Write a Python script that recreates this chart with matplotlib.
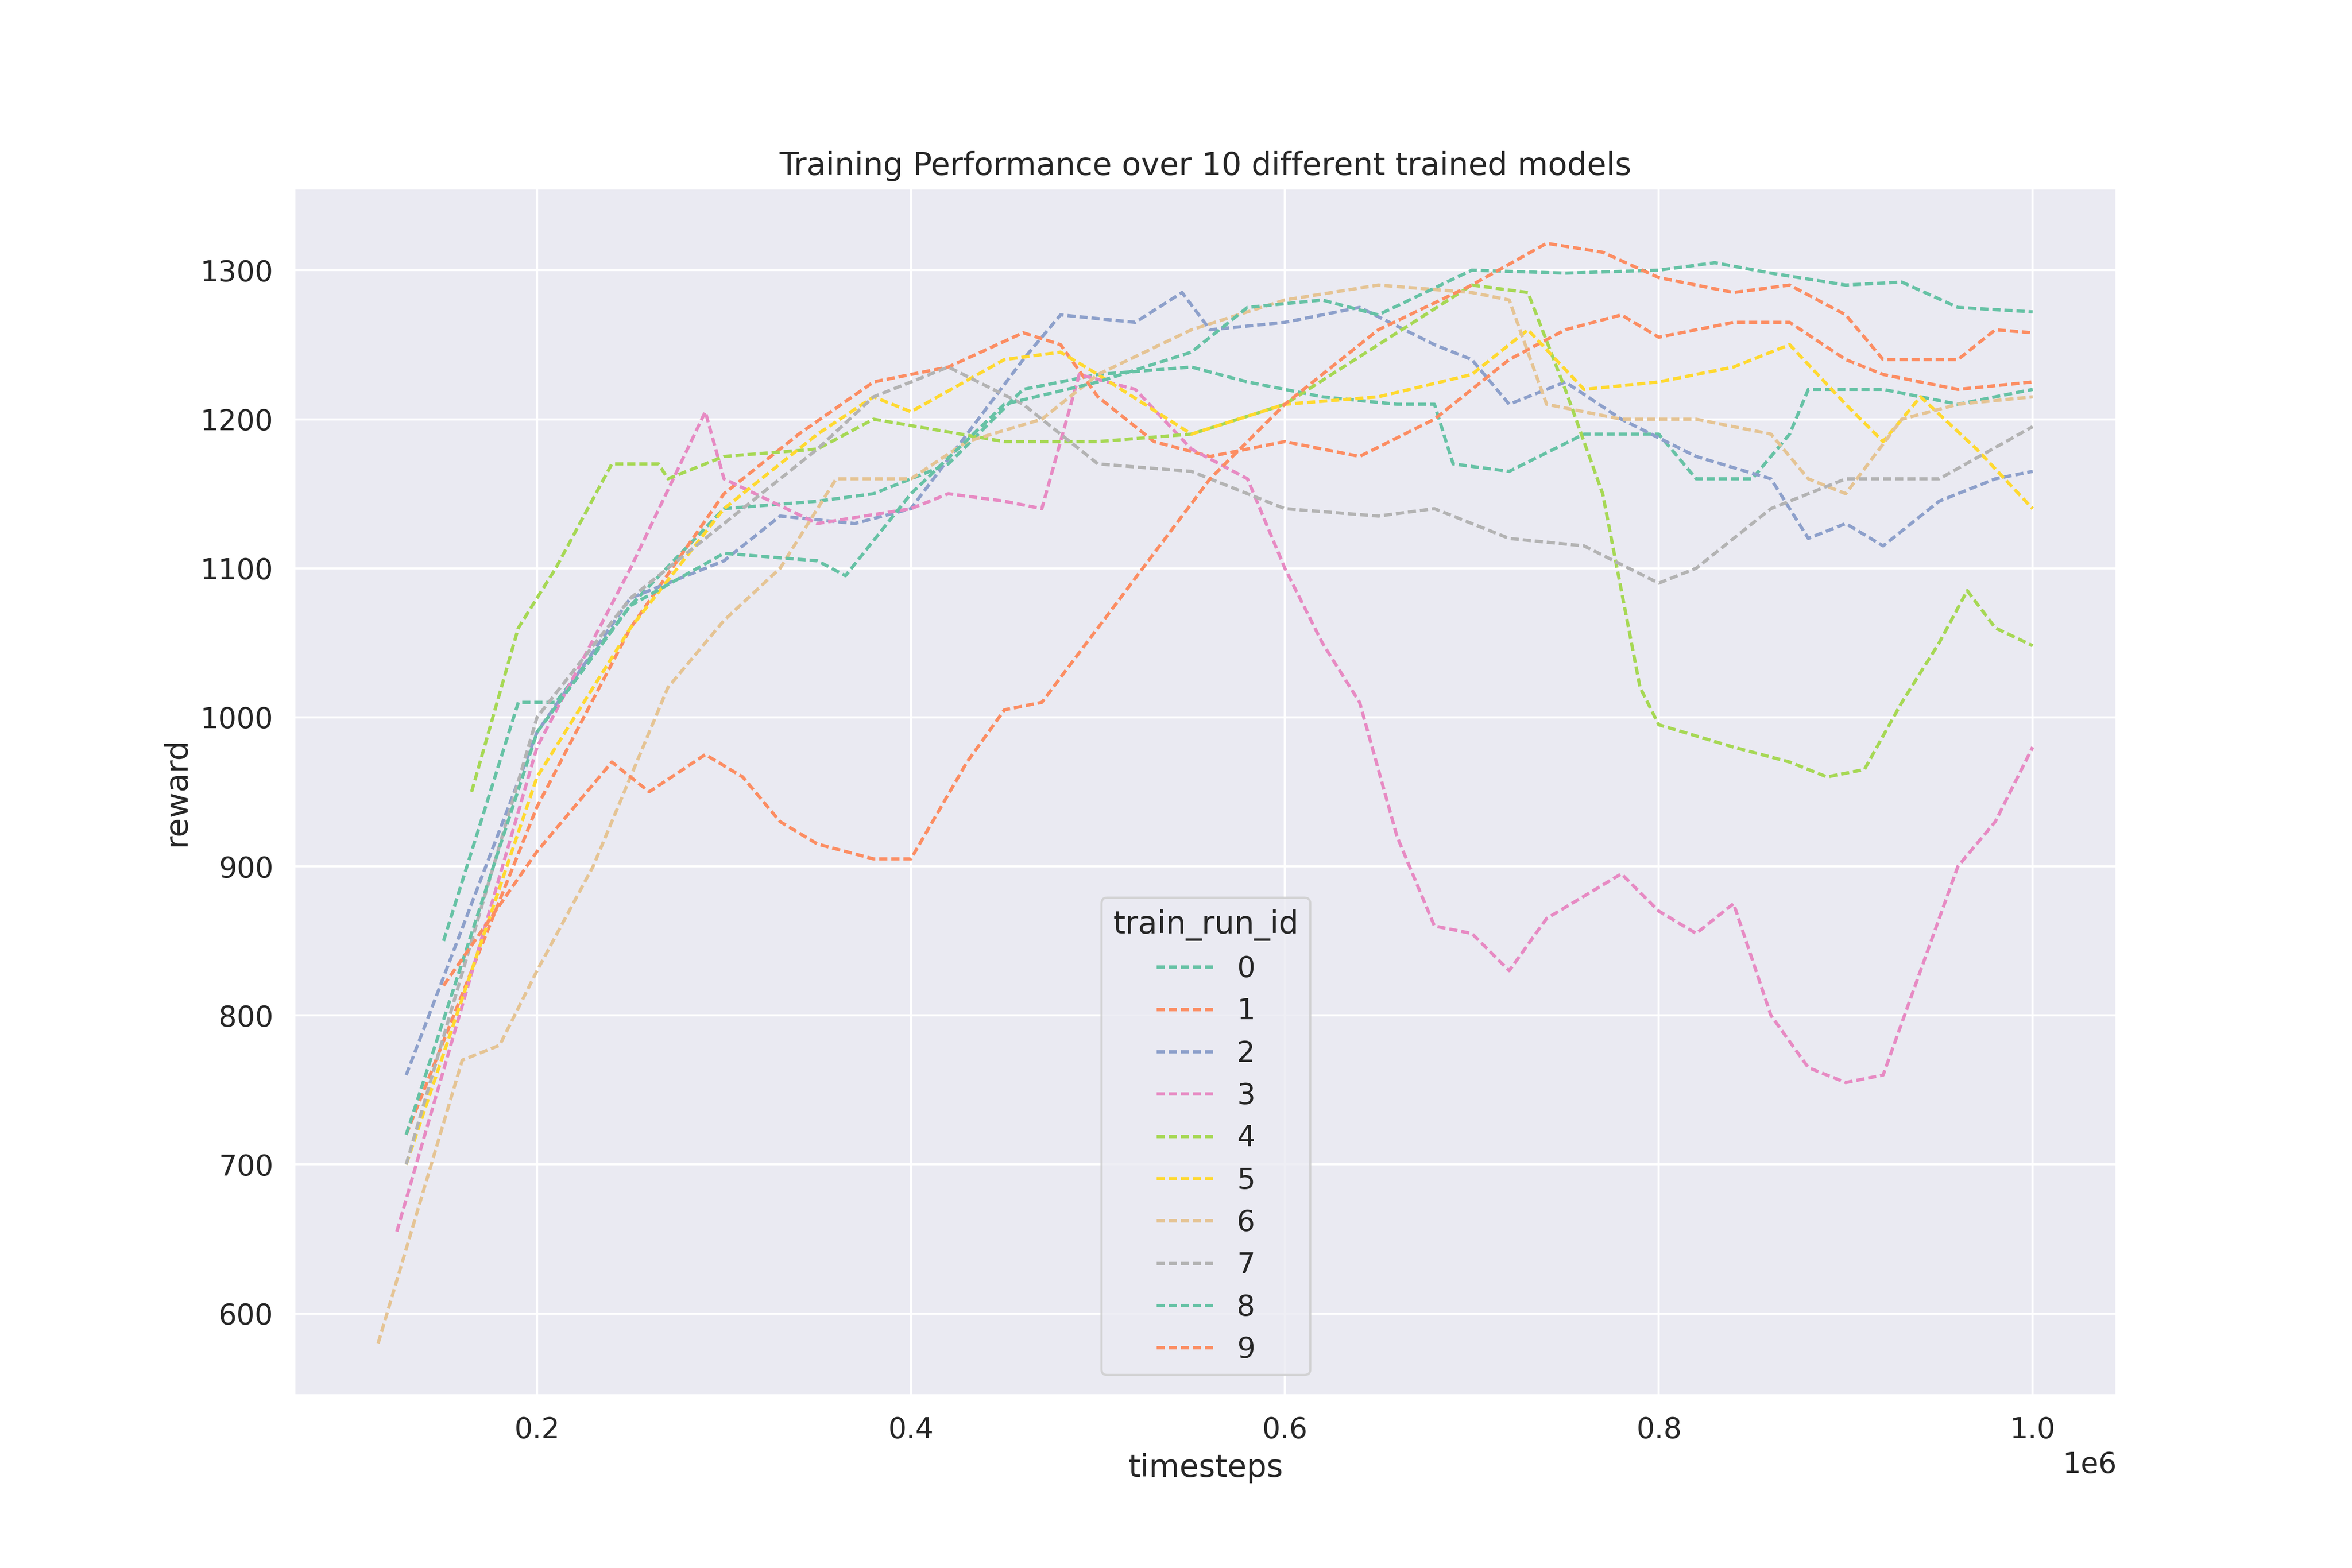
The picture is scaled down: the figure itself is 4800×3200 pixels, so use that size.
import numpy as np
import matplotlib
matplotlib.use("Agg")
import matplotlib.pyplot as plt
import seaborn as sns

run_ids = list(range(10))

x0 = [0.15, 0.19, 0.21, 0.25, 0.3, 0.35, 0.38, 0.42, 0.46, 0.5, 0.55, 0.58, 0.62, 0.66, 0.68, 0.69, 0.72, 0.76, 0.8, 0.82, 0.85, 0.87, 0.88, 0.92, 0.96, 1.0]
y0 = [850, 1010, 1010, 1075, 1140, 1145, 1150, 1170, 1220, 1230, 1235, 1225, 1215, 1210, 1210, 1170, 1165, 1190, 1190, 1160, 1160, 1190, 1220, 1220, 1210, 1220]
x1 = [0.13, 0.2, 0.25, 0.3, 0.34, 0.38, 0.42, 0.46, 0.48, 0.5, 0.53, 0.56, 0.6, 0.64, 0.68, 0.72, 0.75, 0.78, 0.8, 0.84, 0.87, 0.9, 0.92, 0.96, 1.0]
y1 = [720, 940, 1060, 1150, 1190, 1225, 1235, 1258, 1250, 1215, 1185, 1175, 1185, 1175, 1200, 1240, 1260, 1270, 1255, 1265, 1265, 1240, 1230, 1220, 1225]
x2 = [0.13, 0.2, 0.25, 0.3, 0.33, 0.37, 0.4, 0.43, 0.46, 0.48, 0.52, 0.545, 0.56, 0.6, 0.64, 0.68, 0.7, 0.72, 0.75, 0.78, 0.82, 0.86, 0.88, 0.9, 0.92, 0.95, 0.98, 1.0]
y2 = [760, 990, 1080, 1105, 1135, 1130, 1140, 1190, 1240, 1270, 1265, 1285, 1260, 1265, 1275, 1250, 1240, 1210, 1225, 1200, 1175, 1160, 1120, 1130, 1115, 1145, 1160, 1165]
x3 = [0.125, 0.2, 0.25, 0.29, 0.3, 0.35, 0.4, 0.42, 0.45, 0.47, 0.49, 0.52, 0.55, 0.58, 0.6, 0.62, 0.64, 0.66, 0.68, 0.7, 0.72, 0.74, 0.76, 0.78, 0.8, 0.82, 0.84, 0.86, 0.88, 0.9, 0.92, 0.94, 0.96, 0.98, 1.0]
y3 = [655, 980, 1100, 1205, 1160, 1130, 1140, 1150, 1145, 1140, 1230, 1220, 1180, 1160, 1100, 1050, 1010, 920, 860, 855, 830, 865, 880, 895, 870, 855, 875, 800, 765, 755, 760, 830, 900, 930, 980]
x4 = [0.165, 0.19, 0.21, 0.24, 0.265, 0.27, 0.3, 0.35, 0.38, 0.45, 0.5, 0.55, 0.6, 0.65, 0.7, 0.73, 0.75, 0.77, 0.79, 0.8, 0.84, 0.87, 0.89, 0.91, 0.93, 0.95, 0.965, 0.98, 1.0]
y4 = [950, 1060, 1100, 1170, 1170, 1160, 1175, 1180, 1200, 1185, 1185, 1190, 1210, 1250, 1290, 1285, 1220, 1150, 1020, 995, 980, 970, 960, 965, 1010, 1050, 1085, 1060, 1048]
x5 = [0.13, 0.2, 0.25, 0.3, 0.35, 0.38, 0.4, 0.45, 0.48, 0.5, 0.55, 0.6, 0.65, 0.7, 0.73, 0.76, 0.8, 0.84, 0.87, 0.9, 0.92, 0.94, 0.97, 1.0]
y5 = [700, 960, 1060, 1140, 1190, 1215, 1205, 1240, 1245, 1230, 1190, 1210, 1215, 1230, 1260, 1220, 1225, 1235, 1250, 1210, 1185, 1215, 1180, 1140]
x6 = [0.115, 0.16, 0.18, 0.2, 0.23, 0.27, 0.3, 0.33, 0.36, 0.4, 0.43, 0.47, 0.5, 0.55, 0.6, 0.65, 0.7, 0.72, 0.74, 0.78, 0.82, 0.86, 0.88, 0.9, 0.93, 0.96, 1.0]
y6 = [580, 770, 780, 830, 900, 1020, 1065, 1100, 1160, 1160, 1185, 1200, 1230, 1260, 1280, 1290, 1285, 1280, 1210, 1200, 1200, 1190, 1160, 1150, 1200, 1210, 1215]
x7 = [0.13, 0.2, 0.25, 0.3, 0.35, 0.38, 0.42, 0.46, 0.5, 0.55, 0.6, 0.65, 0.68, 0.72, 0.76, 0.8, 0.82, 0.86, 0.9, 0.95, 1.0]
y7 = [700, 1000, 1080, 1130, 1180, 1215, 1235, 1210, 1170, 1165, 1140, 1135, 1140, 1120, 1115, 1090, 1100, 1140, 1160, 1160, 1195]
x8 = [0.13, 0.2, 0.25, 0.3, 0.35, 0.365, 0.4, 0.45, 0.5, 0.55, 0.58, 0.62, 0.65, 0.7, 0.75, 0.8, 0.83, 0.86, 0.9, 0.93, 0.96, 1.0]
y8 = [720, 990, 1075, 1110, 1105, 1095, 1150, 1210, 1225, 1245, 1275, 1280, 1270, 1300, 1298, 1300, 1305, 1298, 1290, 1292, 1275, 1272]
x9 = [0.15, 0.2, 0.24, 0.26, 0.29, 0.31, 0.33, 0.35, 0.38, 0.4, 0.43, 0.45, 0.47, 0.5, 0.53, 0.56, 0.6, 0.65, 0.7, 0.74, 0.77, 0.8, 0.84, 0.87, 0.9, 0.92, 0.96, 0.98, 1.0]
y9 = [820, 910, 970, 950, 975, 960, 930, 915, 905, 905, 970, 1005, 1010, 1060, 1110, 1160, 1210, 1260, 1290, 1318, 1312, 1295, 1285, 1290, 1270, 1240, 1240, 1260, 1258]

xs = [x0, x1, x2, x3, x4, x5, x6, x7, x8, x9]
ys = [y0, y1, y2, y3, y4, y5, y6, y7, y8, y9]

sns.set_theme(style="darkgrid", font_scale=1.2)
colors = sns.color_palette("Set2", 8)

fig, ax = plt.subplots(figsize=(15, 10), dpi=320)
for i, (x, y) in enumerate(zip(xs, ys)):
    ax.plot(np.array(x) * 1e6, y, linestyle=(0, (2.5, 1.2)), linewidth=1.5,
            color=colors[i % 8], label=str(run_ids[i]))

ax.set_xlim(0.07e6, 1.045e6)
ax.set_ylim(545, 1355)
ax.set_xlabel("timesteps")
ax.set_ylabel("reward")
ax.set_title("Training Performance over 10 different trained models")
ax.legend(title="train_run_id", loc="lower left", bbox_to_anchor=(0.435, 0.005))
fig.savefig("out.png")
